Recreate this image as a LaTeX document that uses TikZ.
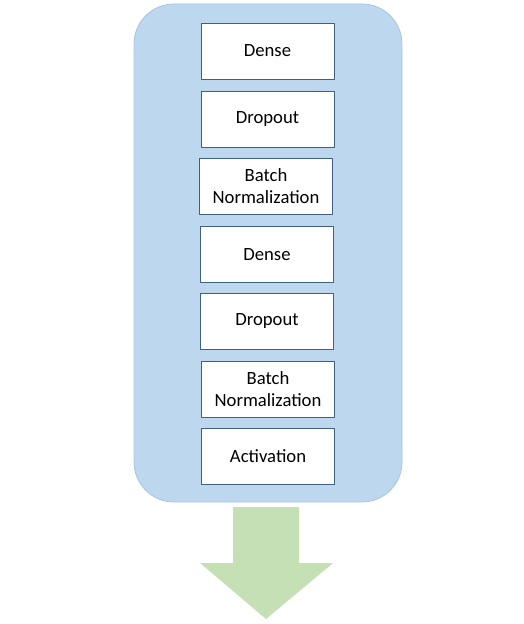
\documentclass[tikz,border=0pt]{standalone}
\usepackage{fontspec}
\setmainfont{Carlito}
\definecolor{panelblue}{HTML}{BDD7EE}
\definecolor{paneledge}{HTML}{A6C5E4}
\definecolor{boxedge}{HTML}{41607F}
\definecolor{arrowgreen}{HTML}{C5E0B4}
\begin{document}
\begin{tikzpicture}[x=0.75pt, y=-0.75pt, font=\fontsize{14}{16.5}\selectfont, line join=round,
	layer/.style={draw=boxedge, fill=white, line width=0.6pt, minimum width=99.75pt, minimum height=42pt, inner sep=0pt, align=center}]
		\useasboundingbox (0,0) rectangle (524,624);
		% Container
		\draw[fill=panelblue, draw=paneledge, line width=0.6pt, rounded corners=30pt] (134,4) rectangle (402,502);
		% Layers
		\node[layer] (dense1) at (267.5,51) {Dense};
		\node[layer] (drop1) at (267.5,119.5) {Dropout};
		\node[layer] (bn1) at (266,186) {Batch\\Normalization};
		\node[layer] (dense2) at (267,254.5) {Dense};
		\node[layer] (drop2) at (267,321) {Dropout};
		\node[layer] (bn2) at (268,389) {Batch\\Normalization};
		\node[layer] (act) at (268,456) {Activation};
		% Output arrow
		\fill[arrowgreen] (233,507)--(299,507)--(299,563)--(333,563)--(266,619)--(200,563)--(233,563)--cycle;
\end{tikzpicture}
\end{document}
